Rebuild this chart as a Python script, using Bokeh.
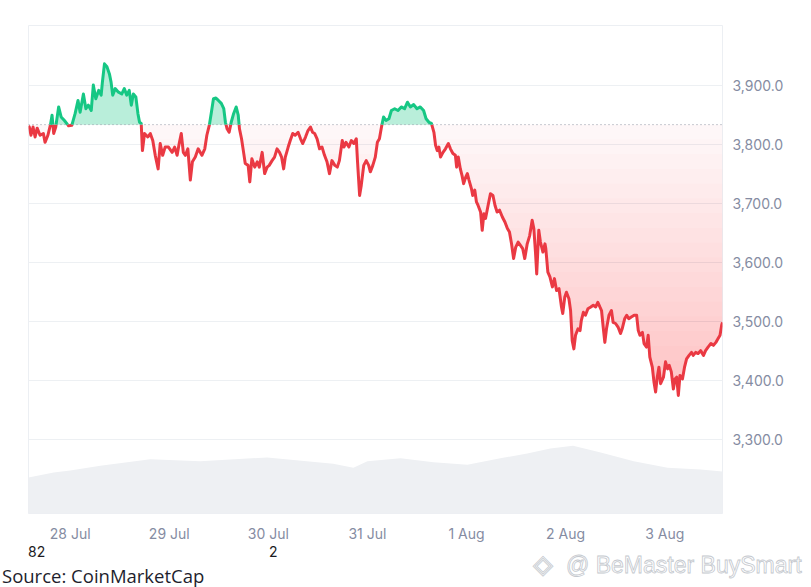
import numpy as np
from bokeh.plotting import figure
from bokeh.layouts import column
from bokeh.models import Range1d, FixedTicker, NumeralTickFormatter, Span, Div
from bokeh.embed import file_html
from bokeh.resources import INLINE

# ---- data (hours since 27 Jul 00:00, price in USD) ----
hours = [13.9, 14.1, 14.5, 15.0, 15.5, 16.0, 16.7, 17.5, 17.9, 18.6, 19.2, 19.6, 20.0, 20.5, 21.2, 21.8, 22.6, 23.6,
         24.4, 25.2, 25.9, 26.4, 27.2, 27.8, 28.4, 29.1, 29.6, 30.2, 30.9, 31.5, 31.8, 32.3, 32.9, 33.5, 33.9, 34.3,
         34.9, 35.7, 36.5, 37.1, 37.7, 38.3, 38.8, 39.3, 39.9, 40.4, 40.8, 41.2, 41.5, 42.0, 42.8, 43.4, 44.0, 44.6,
         45.3, 45.8, 46.4, 47.0, 47.8, 48.7, 49.3, 49.9, 50.4, 50.9, 51.4, 51.9, 52.5, 53.1, 53.6, 54.3, 55.0,
         55.9, 56.6, 57.1, 57.7, 58.2, 58.7, 59.3, 59.9, 60.6, 61.2, 61.6, 62.0, 62.5, 63.0, 63.6, 64.2, 64.7, 65.0,
         65.5, 66.0, 66.4, 67.1, 67.5, 68.0, 68.7, 69.3, 69.8, 70.5, 71.1, 71.7, 72.2, 72.9, 73.5, 74.1, 74.7, 75.2,
         75.7, 76.1, 76.8, 77.3, 77.9, 78.5, 79.2, 79.8, 80.3, 81.0, 81.6, 82.2, 82.7, 83.2, 83.8, 84.4, 85.0, 85.6,
         86.2, 86.8, 87.4, 88.1, 88.7, 89.2, 89.9, 90.3, 90.8, 91.5, 92.1, 92.7, 93.3, 93.6, 94.1, 94.5, 95.1, 95.7,
         96.3, 96.7, 97.3, 97.9, 98.4, 98.9, 99.4, 99.9, 100.5, 101.2, 101.8, 102.6, 103.4, 104.2, 105.0, 105.7,
         106.4, 107.2, 108.0, 108.8, 109.6, 110.2, 110.9, 111.5, 112.1, 112.5, 112.9, 113.3, 113.7, 114.3, 114.9,
         115.6, 116.1, 116.7, 117.3, 117.6, 118.0, 118.5, 118.9, 119.3, 119.8, 120.2, 120.6, 121.2, 121.5, 122.0,
         122.4, 122.8, 123.4, 123.8, 124.2, 124.6, 125.3, 125.8, 126.4, 126.9, 127.4, 128.0, 128.7, 129.3, 129.9,
         130.4, 130.9, 131.4, 131.9, 132.5, 133.1, 133.6, 134.1, 134.7, 135.3, 135.9, 136.3, 136.7, 137.0, 137.5,
         137.9, 138.5, 139.0, 139.2, 139.7, 140.2, 140.8, 141.3, 141.8, 142.4, 143.0, 143.3, 143.8, 144.2, 144.8,
         145.2, 145.6, 146.0, 146.4, 147.0, 147.5, 147.8, 148.3, 148.8, 149.4, 150.1, 150.7, 151.3, 151.8, 152.3,
         152.7, 153.1, 153.5, 153.9, 154.5, 155.1, 155.5, 156.1, 156.7, 157.3, 157.7, 158.3, 158.8, 159.3, 159.9,
         160.6, 161.2, 161.6, 162.0, 162.6, 163.0, 163.6, 164.0, 164.4, 165.0, 165.4, 165.8, 166.2, 166.6, 167.0,
         167.7, 168.2, 168.7, 169.1, 169.6, 170.1, 170.5, 170.9, 171.3, 171.7, 172.3, 172.8, 173.3, 173.9, 174.5,
         174.9, 175.5, 176.1, 176.7, 177.4, 177.9, 178.5, 179.2, 179.8, 180.4, 180.9, 181.4, 181.8, 182.0]
price = [3832, 3830, 3816, 3830, 3813, 3828, 3816, 3819, 3804, 3816, 3833, 3850, 3819, 3830, 3864, 3847, 3841, 3832,
         3833, 3853, 3875, 3855, 3886, 3861, 3867, 3858, 3901, 3878, 3892, 3884, 3906, 3937, 3932, 3920, 3906, 3884,
         3895, 3889, 3886, 3895, 3884, 3892, 3867, 3886, 3881, 3853, 3838, 3836, 3790, 3819, 3813, 3819, 3807, 3782,
         3759, 3802, 3782, 3796, 3796, 3787, 3796, 3782, 3802, 3819, 3787, 3782, 3793, 3740, 3771, 3779, 3793,
         3782, 3793, 3816, 3833, 3855, 3878, 3879, 3875, 3870, 3861, 3838, 3827, 3821, 3838, 3853, 3864, 3850, 3827,
         3810, 3787, 3768, 3765, 3737, 3776, 3762, 3771, 3762, 3787, 3751, 3762, 3765, 3773, 3779, 3793, 3787, 3779,
         3759, 3779, 3796, 3807, 3819, 3816, 3821, 3810, 3802, 3813, 3824, 3830, 3821, 3819, 3810, 3793, 3796, 3782,
         3771, 3751, 3773, 3765, 3762, 3773, 3807, 3796, 3804, 3796, 3807, 3802, 3810, 3771, 3714, 3731, 3765, 3773,
         3765, 3754, 3765, 3779, 3804, 3810, 3830, 3847, 3841, 3844, 3858, 3861, 3858, 3864, 3861, 3872,
         3864, 3868, 3861, 3864, 3858, 3844, 3838, 3836, 3821, 3799, 3790, 3796, 3779, 3787, 3793,
         3802, 3793, 3785, 3782, 3762, 3779, 3759, 3748, 3734, 3745, 3751, 3740, 3725, 3714, 3723,
         3703, 3697, 3686, 3655, 3683, 3675, 3700, 3717, 3714, 3697, 3686, 3689, 3677, 3669, 3658,
         3652, 3632, 3607, 3626, 3635, 3629, 3624, 3607, 3632, 3646, 3672, 3658, 3618, 3581, 3655,
         3635, 3618, 3632, 3624, 3584, 3576, 3559, 3573, 3553, 3556, 3525, 3514, 3542, 3550, 3539,
         3519, 3468, 3454, 3477, 3488, 3485, 3502, 3516, 3511, 3522, 3525, 3528, 3525, 3533, 3525,
         3519, 3491, 3465, 3488, 3511, 3519, 3499, 3497, 3491, 3480, 3488, 3505, 3511, 3505, 3508,
         3511, 3511, 3485, 3477, 3482, 3463, 3457, 3477, 3440, 3423, 3398, 3381, 3406, 3423, 3395,
         3406, 3432, 3420, 3426, 3415, 3386, 3403, 3406, 3375, 3409, 3403, 3423, 3437, 3443, 3448,
         3443, 3448, 3446, 3451, 3443, 3451, 3457, 3463, 3460, 3465, 3471, 3477, 3494, 3499]
open_price = 3834

vol_hours = [13.9, 20.0, 24.0, 31.3, 43.4, 55.5, 71.7, 87.7, 92.6, 96.0, 104.0, 112.0, 120.2, 128.2, 134.7,
             140.3, 145.8, 152.5, 160.5, 168.7, 176.7, 182.0]
volume = [0.74, 0.84, 0.88, 0.98, 1.11, 1.07, 1.15, 1.02, 0.94, 1.07, 1.13, 1.05, 1.00, 1.13, 1.23,
          1.33, 1.39, 1.25, 1.07, 0.94, 0.90, 0.86]

tick_hours = [24, 48, 72, 96, 120, 144, 168]
tick_labels = ["28 Jul", "29 Jul", "30 Jul", "31 Jul", "1 Aug", "2 Aug", "3 Aug"]
price_ticks = [3300, 3400, 3500, 3600, 3700, 3800, 3900]

note_texts = ["82", "2"]
source_text = "Source: CoinMarketCap"
watermark_text = "@ BeMaster BuySmart"

RED = "#ea3943"
GREEN = "#16c784"
LABEL_GRAY = "#858ca2"

# ---- split the line where it crosses the opening price ----
t = np.array(hours, dtype=float)
v = np.array(price, dtype=float)
tt, vv = [t[0]], [v[0]]
for i in range(1, len(t)):
    a, b = v[i - 1] - open_price, v[i] - open_price
    if a * b < 0:
        f = a / (a - b)
        tt.append(t[i - 1] + f * (t[i] - t[i - 1]))
        vv.append(open_price)
    tt.append(t[i])
    vv.append(v[i])
tt = np.array(tt)
vv = np.array(vv)
green_line = np.where(vv >= open_price, vv, np.nan)
red_line = np.where(vv <= open_price, vv, np.nan)

p = figure(frame_width=694, frame_height=488,
           x_range=Range1d(13.9, 182.0), y_range=Range1d(3175, 4002),
           y_axis_location="right", output_backend="svg", toolbar_location=None,
           min_border_left=28, min_border_top=25, min_border_right=81, min_border_bottom=29,
           background_fill_color="white", border_fill_color="white")
p.outline_line_color = "#eceff3"
p.outline_line_width = 1

p.extra_y_ranges = {"vol": Range1d(0, 10)}
p.varea(x=vol_hours, y1=0, y2=volume, y_range_name="vol", color="#eef0f3")

# red gradient area (stacked translucent bands)
p.varea(x=tt, y1=open_price, y2=np.minimum(vv, open_price), color=RED, alpha=0.04)
step = 25
for k in range(1, 20):
    lvl = open_price - k * step
    p.varea(x=tt, y1=lvl, y2=np.minimum(vv, lvl), color=RED, alpha=0.015)

# green area
p.varea(x=tt, y1=open_price, y2=np.maximum(vv, open_price), color=GREEN, alpha=0.3)

p.add_layout(Span(location=open_price, dimension="width", line_color="#8f96a3",
                  line_dash="1 3", line_width=1))

p.line(tt, red_line, line_color=RED, line_width=3, line_join="round")
p.line(tt, green_line, line_color=GREEN, line_width=3, line_join="round")

# axes
p.yaxis.ticker = FixedTicker(ticks=price_ticks)
p.yaxis.formatter = NumeralTickFormatter(format="0,0.0")
p.yaxis.axis_line_color = None
p.yaxis.major_tick_line_color = None
p.yaxis.minor_tick_line_color = None
p.yaxis.major_label_standoff = 4
p.yaxis.major_label_text_font = "Inter"
p.yaxis.major_label_text_font_size = "14px"
p.yaxis.major_label_text_color = LABEL_GRAY

p.xaxis.ticker = FixedTicker(ticks=tick_hours)
p.xaxis.major_label_overrides = {h: lab for h, lab in zip(tick_hours, tick_labels)}
p.xaxis.axis_line_color = None
p.xaxis.major_tick_line_color = None
p.xaxis.minor_tick_line_color = None
p.xaxis.major_label_standoff = 5
p.xaxis.major_label_text_font = "Inter"
p.xaxis.major_label_text_font_size = "14px"
p.xaxis.major_label_text_color = LABEL_GRAY

p.xgrid.visible = False
p.ygrid.ticker = FixedTicker(ticks=price_ticks)
p.ygrid.grid_line_color = "#edf0f3"
p.ygrid.grid_line_width = 1

# ---- strip of texts below the chart ----
span = "position:absolute;white-space:nowrap;"
html = (
    '<div style="position:relative;width:803px;height:44px;overflow:hidden;">'
    f'<span style="{span}left:28px;top:0px;font:14px Inter;line-height:16px;color:#1b1b22;">{note_texts[0]}</span>'
    f'<span style="{span}left:269px;top:0px;font:14px Inter;line-height:16px;color:#1b1b22;">{note_texts[1]}</span>'
    f'<span style="{span}left:2px;top:21px;font:18.5px \'Open Sans\';line-height:21px;color:#1e1e2d;">{source_text}</span>'
    f'<span style="{span}left:533px;top:6px;font:26px \'DejaVu Sans\';line-height:28px;color:#ffffff;'
    '-webkit-text-stroke:0.8px #c4c8ce;">&#9672;</span>'
    f'<span style="{span}left:566px;top:8px;font:23px \'Liberation Sans\';line-height:26px;color:#ffffff;'
    f'-webkit-text-stroke:0.8px #c4c8ce;">{watermark_text}</span>'
    '</div>'
)
notes = Div(text=html, width=803, height=44, margin=0)

layout = column(p, notes, spacing=0)
open("out.html", "w").write(file_html(layout, INLINE))
